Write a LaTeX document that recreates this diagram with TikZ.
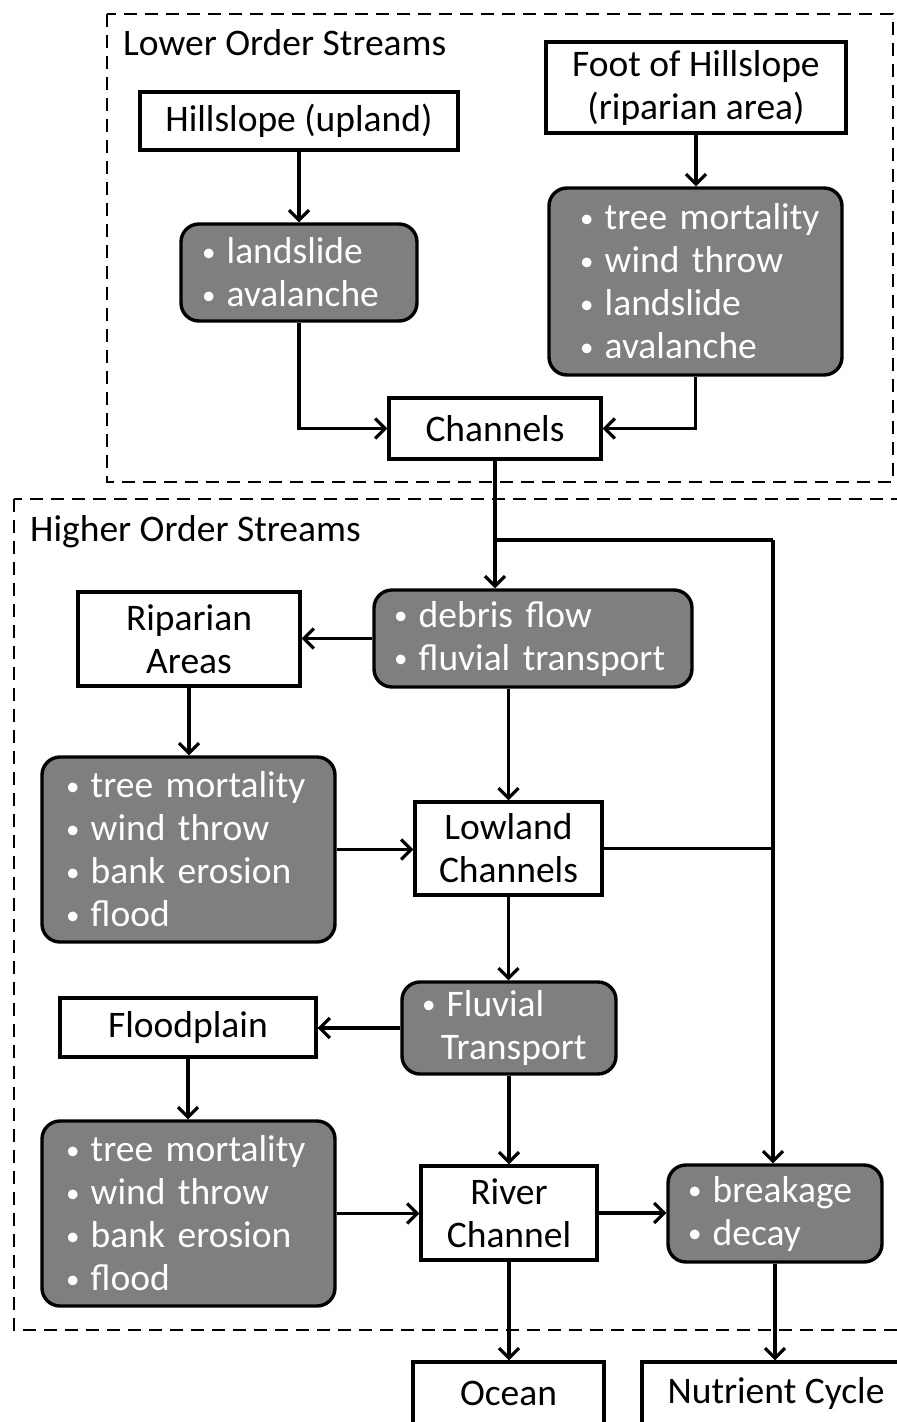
\documentclass[tikz,border=0pt]{standalone}
\usepackage{fontspec}
\usepackage{graphicx}
\setmainfont{Carlito}
\usetikzlibrary{arrows.meta,calc}
\definecolor{boxgrey}{HTML}{7F7F7F}
\newcommand{\bl}[1]{\mbox{\raisebox{0.07em}{\scalebox{0.72}{•}}\hspace{0.3em}#1}}
\begin{document}
\begin{tikzpicture}[x=1pt,y=-1pt,
  txt/.style={font=\fontsize{37.5}{43}\selectfont},
  wbox/.style={txt,draw,line width=3.4pt,fill=white,inner sep=0pt,align=center},
  gbox/.style={txt,draw,line width=3.4pt,fill=boxgrey,text=white,rounded corners=18pt,inner ysep=0pt,align=left},
  region/.style={line width=2.8pt,dash pattern=on 13pt off 8pt},
  flow/.style={line width=3.2pt,-{Straight Barb[length=10pt,width=20pt,line width=3.2pt]}},
  plain/.style={line width=3.2pt}]
\useasboundingbox (0,0) rectangle (897,1422);
\clip (0,0) rectangle (897,1422);

% stream-order regions
\draw[region] (107,14) rectangle (893,482);
\draw[region] (14,499) rectangle (930,1330);
\node[txt,anchor=base west,inner sep=0pt] (lowlab) at (123,55) {Lower Order Streams};
\node[txt,anchor=base west,inner sep=0pt] (highlab) at (30,541) {Higher Order Streams};

% lower order streams
\node[wbox,minimum width=318,minimum height=58] (hill) at (299,121) {Hillslope (upland)};
\node[wbox,minimum width=300,minimum height=91] (foot) at (696,87.5) {Foot of Hillslope\\(riparian area)};
\node[gbox,minimum width=236,minimum height=97,inner xsep=21pt,text width=194pt] (g1) at (299,272.5)
  {\bl{landslide}\\\bl{avalanche}};
\node[gbox,minimum width=293,minimum height=187,inner xsep=31pt,text width=231pt] (g2) at (695.5,281.5)
  {\bl{tree mortality}\\\bl{wind throw}\\\bl{landslide}\\\bl{avalanche}};
\node[wbox,minimum width=212,minimum height=61] (chan) at (495,428.5) {Channels};

% higher order streams
\node[gbox,minimum width=318,minimum height=97,inner xsep=20pt,text width=278pt] (debris) at (533,638.5)
  {\bl{debris flow}\\\bl{fluvial transport}};
\node[wbox,minimum width=222,minimum height=94] (rip) at (189,639) {Riparian\\Areas};
\node[gbox,minimum width=293,minimum height=185,inner xsep=24pt,text width=245pt] (g3) at (188.5,849.5)
  {\bl{tree mortality}\\\bl{wind throw}\\\bl{bank erosion}\\\bl{flood}};
\node[wbox,minimum width=187,minimum height=93] (low) at (508.5,848.5) {Lowland\\Channels};
\node[gbox,minimum width=214,minimum height=92,inner xsep=20pt,text width=174pt] (fluv) at (509,1028)
  {\bl{Fluvial}\\\mbox{\hspace{0.5em}Transport}};
\node[wbox,minimum width=256,minimum height=59] (flood) at (188,1027.5) {Floodplain};
\node[gbox,minimum width=293,minimum height=185,inner xsep=24pt,text width=245pt] (g4) at (188.5,1213.5)
  {\bl{tree mortality}\\\bl{wind throw}\\\bl{bank erosion}\\\bl{flood}};
\node[wbox,minimum width=176,minimum height=94] (river) at (509,1213) {River\\Channel};
\node[gbox,minimum width=214,minimum height=97,inner xsep=20pt,text width=174pt] (brk) at (775,1213.5)
  {\bl{breakage}\\\bl{decay}};
\node[wbox,minimum width=191,minimum height=62] (ocean) at (508.5,1393) {Ocean};
\node[wbox,minimum width=268,minimum height=62] (nut) at (776,1393) {Nutrient Cycle};

% junctions of the bypass line
\coordinate (j1) at (495,540);
\coordinate (j2) at (773,540);

% connectors
\draw[flow] (hill.south) -- (g1.north);
\draw[flow] (foot.south) -- (foot.south |- g2.north);
\draw[flow] (g1.south) |- (chan.west);
\draw[flow] (g2.south) |- (chan.east);
\draw[flow] (chan.south) -- (chan.south |- debris.north);
\draw[plain] (j1) -- (j2);
\draw[flow] (j2) -- (j2 |- brk.north);
\draw[flow] (debris.west) -- (debris.west -| rip.east);
\draw[flow] (rip.south) -- (rip.south |- g3.north);
\draw[flow] (low.north |- debris.south) -- (low.north);
\draw[flow] (g3.east) -- (g3.east -| low.west);
\draw[plain] (low.east) -- (low.east -| j2);
\draw[flow] (low.south) -- (low.south |- fluv.north);
\draw[flow] (fluv.west) -- (fluv.west -| flood.east);
\draw[flow] (flood.south) -- (flood.south |- g4.north);
\draw[flow] (fluv.south) -- (fluv.south |- river.north);
\draw[flow] (g4.east) -- (g4.east -| river.west);
\draw[flow] (river.east) -- (river.east -| brk.west);
\draw[flow] (river.south) -- (river.south |- ocean.north);
\draw[flow] (brk.south) -- (brk.south |- nut.north);
\end{tikzpicture}
\end{document}
